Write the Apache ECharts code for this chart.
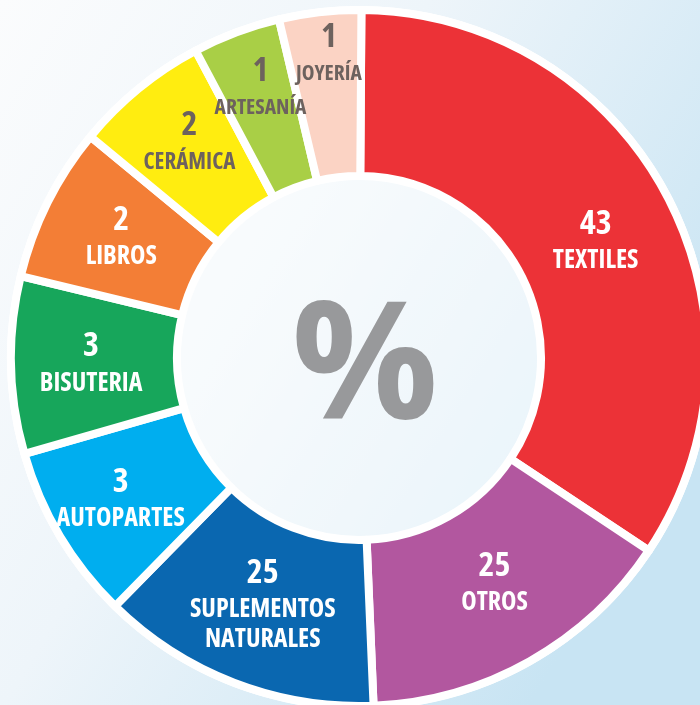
<!DOCTYPE html>
<html>
<head>
<meta charset="utf-8">
<script src="https://cdn.jsdelivr.net/npm/echarts@6/dist/echarts.min.js"></script>
<style>
html, body { margin: 0; padding: 0; }
#chart { width: 700px; height: 705px; }
</style>
</head>
<body>
<div id="chart"></div>
<script>
var categories = ['TEXTILES', 'OTROS', 'SUPLEMENTOS\nNATURALES', 'AUTOPARTES', 'BISUTERIA', 'LIBROS', 'CERÁMICA', 'ARTESANÍA', 'JOYERÍA'];
var labelValues = [43, 25, 25, 3, 3, 2, 2, 1, 1];
// slice sizes as drawn in the picture (degrees), they are not proportional to the labels
var sliceShares = [123.2, 54.0, 46.9, 29.5, 29.6, 25.9, 22.5, 14.7, 13.7];

var sliceColors = ['#ec3237', '#b2579f', '#0a67b0', '#00aeef', '#17a65b', '#f37e36', '#ffed10', '#a9cf46', '#fbd3c4'];
var darkLabels = ['CERÁMICA', 'ARTESANÍA', 'JOYERÍA'];
var labelShift = {
    'TEXTILES': [0, 7], 'OTROS': [4, -10], 'SUPLEMENTOS\nNATURALES': [0, -5], 'AUTOPARTES': [-8, 2],
    'BISUTERIA': [0, -2], 'LIBROS': [2, -3], 'CERÁMICA': [0, -10], 'ARTESANÍA': [-4, -21], 'JOYERÍA': [0, -39]
};
var nameSize = { 'CERÁMICA': 23, 'ARTESANÍA': 21.5, 'JOYERÍA': 21.5 };

var chart = echarts.init(document.getElementById('chart'));

var dataArray = [];
categories.forEach(function(name, i) {
    var label = { color: darkLabels.indexOf(name) >= 0 ? '#6d625e' : '#ffffff' };
    if (nameSize[name]) {
        label.rich = { n: { fontSize: nameSize[name] } };
    }
    dataArray.push({
        name: name,
        value: sliceShares[i],
        itemStyle: { color: sliceColors[i] },
        label: label
    });
});

// Open Sans has a condensed width, asked for through the font shorthand
var labelFont = '"Open Sans", sans-serif';

var option = {
    animation: false,
    backgroundColor: {
        type: 'linear', x: 0, y: 0, x2: 1, y2: 0.6,
        colorStops: [
            { offset: 0, color: '#fbfcfd' },
            { offset: 0.45, color: '#eef5fa' },
            { offset: 1, color: '#c8e4f3' }
        ]
    },
    series: [
        {
            // white backing ring
            type: 'pie',
            silent: true,
            center: [359, 358],
            radius: [179, 352],
            label: { show: false },
            itemStyle: { color: '#ffffff' },
            data: [{ value: 1, name: 'ring' }]
        },
        {
            // inner disc with the % sign
            type: 'pie',
            silent: true,
            center: [359, 358],
            radius: [0, 179],
            itemStyle: { color: 'rgba(255,255,255,0.55)' },
            label: {
                show: true,
                position: 'center',
                formatter: '%',
                fontFamily: '"Open Sans", sans-serif',
                fontWeight: 'bold',
                fontSize: 163,
                color: '#98999b'
            },
            labelLayout: { dx: 6, dy: 15 },
            data: [{ value: 1, name: 'center' }]
        },
        {
            name: 'Sectores',
            type: 'pie',
            center: [359, 358],
            radius: [182, 348],
            startAngle: 89.6,
            clockwise: true,
            avoidLabelOverlap: false,
            emphasis: { disabled: true },
            itemStyle: { borderColor: '#ffffff', borderWidth: 8 },
            labelLine: { show: false },
            label: {
                show: true,
                position: 'inside',
                formatter: function(p) {
                    var lines = p.name.split('\n').map(function(s) { return '{n|' + s + '}'; });
                    return '{v|' + labelValues[p.dataIndex] + '}\n' + lines.join('\n');
                },
                rich: {
                    v: { fontFamily: labelFont, fontWeight: 'bold condensed', fontSize: 34, lineHeight: 43 },
                    n: { fontFamily: labelFont, fontWeight: 'bold condensed', fontSize: 26, lineHeight: 30 }
                }
            },
            labelLayout: function(params) {
                var s = labelShift[categories[params.dataIndex]];
                if (s) {
                    return { dx: s[0], dy: s[1] };
                }
                return {};
            },
            data: dataArray
        }
    ]
};

chart.setOption(option);
</script>
</body>
</html>
